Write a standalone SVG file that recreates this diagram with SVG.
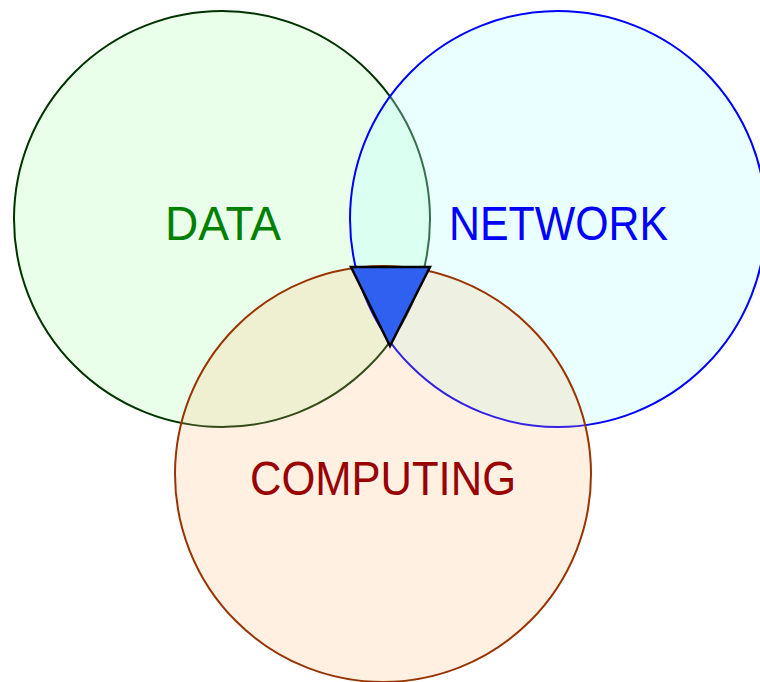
<svg xmlns="http://www.w3.org/2000/svg" width="760" height="682" viewBox="0 0 760 682">
  <style>
    .ring { stroke-width: 2; }
    .label { font-family: "Liberation Sans", Arial, sans-serif; font-size: 48px; }
  </style>
  <rect width="760" height="682" fill="#ffffff"/>
  <g id="data">
    <circle class="ring" cx="222" cy="219" r="208" fill="#d6ffd6" fill-opacity="0.5" stroke="#003300"/>
    <text class="label" x="165" y="240" fill="#008000" textLength="116" lengthAdjust="spacingAndGlyphs">DATA</text>
  </g>
  <g id="network">
    <circle class="ring" cx="558" cy="219" r="208" fill="#b8ffff" fill-opacity="0.3" stroke="#0000ff"/>
    <text class="label" x="449" y="240" fill="#0000ff" textLength="219" lengthAdjust="spacingAndGlyphs">NETWORK</text>
  </g>
  <g id="computing">
    <circle class="ring" cx="383" cy="474" r="208" fill="#ffb670" fill-opacity="0.2" stroke="#993300"/>
    <text class="label" x="250" y="495" fill="#990000" textLength="266" lengthAdjust="spacingAndGlyphs">COMPUTING</text>
  </g>
  <g id="core">
    <polygon points="351,267 430,267 390,346" fill="#3060f0" stroke="#000000" stroke-width="2.5" stroke-linejoin="miter"/>
  </g>
</svg>
